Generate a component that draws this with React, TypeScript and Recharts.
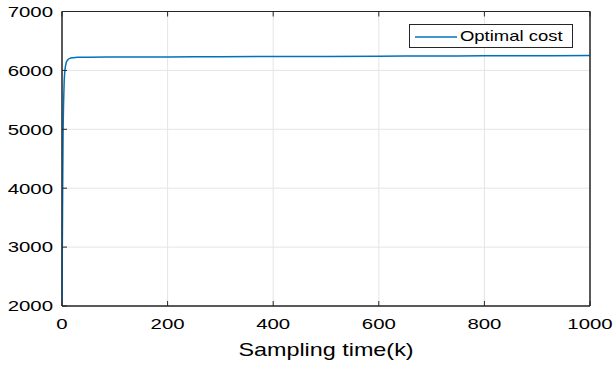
import { LineChart, Line, XAxis, YAxis, CartesianGrid, ReferenceArea } from 'recharts';

const sampleTimes = [0, 1, 2, 3, 4, 5, 6, 7, 8, 10, 12, 15, 20, 25, 30, 50, 100, 200, 300, 400, 500, 600, 700, 800, 900, 1000];
const optimalCost = [2080, 3600, 4900, 5450, 5780, 5950, 6040, 6090, 6130, 6170, 6190, 6205, 6215, 6220, 6222, 6224, 6226, 6229, 6232, 6235, 6238, 6241, 6244, 6247, 6250, 6252];
const xTicks = [0, 200, 400, 600, 800, 1000];
const yTicks = [2000, 3000, 4000, 5000, 6000, 7000];

const data = sampleTimes.map((k, i) => ({ k, cost: optimalCost[i] }));

const FONT = '"Liberation Sans", Arial, Helvetica, sans-serif';
const AXIS_COLOR = '#262626';
const LINE_COLOR = '#0072BD';

// the reference text is drawn wide, so stretch it horizontally
function XTick({ x, y, payload }: any) {
    return (
        <text x={0} y={0} transform={`translate(${x},${y}) scale(1.36,1)`} textAnchor="middle" dy="0.71em"
            fill="#000" fontSize={15} fontFamily={FONT}>{payload.value}</text>
    );
}

function YTick({ x, y, payload }: any) {
    return (
        <text x={0} y={0} transform={`translate(${x},${y}) scale(1.36,1)`} textAnchor="end" dy="0.355em"
            fill="#000" fontSize={15} fontFamily={FONT}>{payload.value}</text>
    );
}

function XLabel({ viewBox }: any) {
    const cx = viewBox.x + viewBox.width / 2;
    return (
        <text x={0} y={0} transform={`translate(${cx},${viewBox.y + 50}) scale(1.23,1)`} textAnchor="middle"
            fill="#000" fontSize={19} fontFamily={FONT}>Sampling time(k)</text>
    );
}

function LegendBox() {
    return (
        <div style={{
            position: 'absolute', left: 409, top: 24, width: 162, height: 22,
            border: `1px solid ${AXIS_COLOR}`, background: '#fff', fontFamily: FONT, fontSize: 15, color: '#000',
        }}>
            <svg width={42} height={4} style={{ position: 'absolute', left: 5, top: 10 }}>
                <line x1={0} y1={2} x2={42} y2={2} stroke={LINE_COLOR} strokeWidth={1.5} />
            </svg>
            <span style={{ position: 'absolute', left: 50, top: 2, lineHeight: '18px', whiteSpace: 'nowrap',
                transform: 'scaleX(1.23)', transformOrigin: 'left center' }}>Optimal cost</span>
        </div>
    );
}

export default function App() {
    return (
        <div style={{ position: 'absolute', left: 0, top: 0, width: 614, height: 365, background: '#fff' }}>
            <LineChart width={614} height={365} data={data} margin={{ top: 10.5, right: 23, bottom: 0, left: 0 }}>
                <CartesianGrid stroke="#e5e5e5" strokeWidth={1} />
                {/* mirrored axes for the inward ticks on top and right */}
                <XAxis xAxisId="top" orientation="top" dataKey="k" type="number" domain={[0, 1000]} ticks={xTicks}
                    height={1} tick={() => <g />} tickSize={-5} stroke={AXIS_COLOR} />
                <YAxis yAxisId="right" orientation="right" type="number" domain={[2000, 7000]} ticks={yTicks}
                    width={1} tick={() => <g />} tickSize={-5} stroke={AXIS_COLOR} />
                <XAxis dataKey="k" type="number" domain={[0, 1000]} ticks={xTicks} height={59}
                    tickSize={-5} tickMargin={17} stroke={AXIS_COLOR} tick={<XTick />} label={<XLabel />} />
                <YAxis type="number" domain={[2000, 7000]} ticks={yTicks} width={62}
                    tickSize={-5} tickMargin={14} stroke={AXIS_COLOR} tick={<YTick />} />
                {/* box around the plot area */}
                <ReferenceArea x1={0} x2={1000} y1={2000} y2={7000} fill="none" stroke={AXIS_COLOR} strokeWidth={1} ifOverflow="visible" />
                <Line dataKey="cost" type="monotone" stroke={LINE_COLOR} strokeWidth={1.5} dot={false} isAnimationActive={false} />
            </LineChart>
            <LegendBox />
        </div>
    );
}
